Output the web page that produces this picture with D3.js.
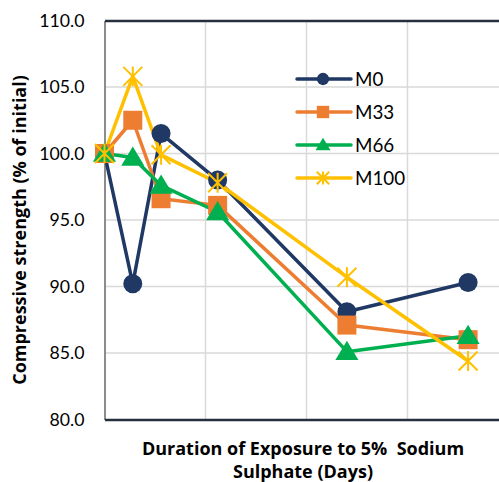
<!DOCTYPE html>
<html>
<head>
<meta charset="utf-8">
<script src="https://cdn.jsdelivr.net/npm/d3@7"></script>
<style>
html,body{margin:0;padding:0;background:#fff;}
svg{display:block;font-family:Lato,"Open Sans",sans-serif;}
</style>
</head>
<body>
<svg id="chart" width="499" height="482"></svg>
<script>
const days = [0, 14, 28, 56, 120, 180];
const seriesNames = ["M0", "M33", "M66", "M100"];
const m0 = [100.0, 90.2, 101.5, 98.0, 88.1, 90.3];
const m33 = [100.0, 102.5, 96.6, 96.1, 87.1, 86.0];
const m66 = [100.0, 99.7, 97.6, 95.6, 85.1, 86.3];
const m100 = [100.0, 105.8, 99.9, 97.8, 90.7, 84.4];
const yTicks = [80, 85, 90, 95, 100, 105, 110];
const xGrid = [0, 50, 100, 150, 200];
const colors = ["#203864", "#ED7D31", "#00B050", "#FFC000"];
const shapes = ["circle", "square", "triangle", "star"];
const yTitle = "Compressive strength (% of initial)";
const xTitle = ["Duration of Exposure to 5%\u00A0 Sodium", "Sulphate (Days)"];

const data = [m0, m33, m66, m100].map((vals, i) => ({
  name: seriesNames[i], color: colors[i], shape: shapes[i],
  points: vals.map((v, j) => ({x: days[j], y: v}))
}));

const svg = d3.select("#chart");
const L = 104.5, T = 20.5, B = 419.5, R = 508.5;
const x = d3.scaleLinear().domain([0, 200]).range([L, R]);
const y = d3.scaleLinear().domain([80, 110]).range([B, T]);

// gridlines
svg.append("g").selectAll("line.h").data(yTicks.filter(t => t > 80 && t < 110)).join("line")
  .attr("x1", L).attr("x2", R).attr("y1", d => y(d)).attr("y2", d => y(d))
  .attr("stroke", "#D9D9D9").attr("stroke-width", 1.5);
svg.append("g").selectAll("line.v").data(xGrid.filter(t => t > 0)).join("line")
  .attr("x1", d => x(d)).attr("x2", d => x(d)).attr("y1", T).attr("y2", B)
  .attr("stroke", "#D9D9D9").attr("stroke-width", 1.5);

// axes
const yAxis = d3.axisLeft(y).tickValues(yTicks).tickSize(0).tickPadding(20).tickFormat(d3.format(".1f"));
const gy = svg.append("g").attr("transform", `translate(${L},0)`).call(yAxis);
gy.select(".domain").attr("stroke", "#8C8C8C").attr("stroke-width", 2);
gy.selectAll("text").attr("font-size", 17.7).attr("fill", "#000").attr("font-family", "Lato, 'Open Sans', sans-serif");

const xAxisB = d3.axisBottom(x).tickValues([]).tickSize(0);
const gxb = svg.append("g").attr("transform", `translate(0,${B})`).call(xAxisB);
gxb.select(".domain").attr("stroke", "#262F3D").attr("stroke-width", 2.5);
const xAxisT = d3.axisTop(x).tickValues([]).tickSize(0);
const gxt = svg.append("g").attr("transform", `translate(0,${T})`).call(xAxisT);
gxt.select(".domain").attr("stroke", "#262F3D").attr("stroke-width", 2.5);

// markers
function drawMarker(g, shape, color, s) {
  if (shape === "circle") {
    g.append("circle").attr("r", s * 0.95).attr("fill", color);
  } else if (shape === "square") {
    g.append("rect").attr("x", -s * 0.95).attr("y", -s * 0.95).attr("width", s * 1.9).attr("height", s * 1.9).attr("fill", color);
  } else if (shape === "triangle") {
    const h = s * 1.1;
    g.append("path").attr("d", `M0,${-h} L${h * 1.05},${h * 0.75} L${-h * 1.05},${h * 0.75} Z`).attr("fill", color);
  } else {
    const r = s * 0.95;
    g.append("path").attr("d", `M${-r},${-r}L${r},${r}M${-r},${r}L${r},${-r}M0,${-r * 1.05}L0,${r * 1.05}`)
      .attr("stroke", color).attr("stroke-width", 2).attr("fill", "none");
  }
}

const line = d3.line().x(d => x(d.x)).y(d => y(d.y));
data.forEach(s => {
  svg.append("path").datum(s.points).attr("d", line)
    .attr("fill", "none").attr("stroke", s.color).attr("stroke-width", 3.5).attr("stroke-linejoin", "round");
});
data.forEach(s => {
  s.points.forEach(p => {
    const g = svg.append("g").attr("transform", `translate(${x(p.x)},${y(p.y)})`);
    drawMarker(g, s.shape, s.color, 10);
  });
});

// legend
const leg = svg.append("g");
data.forEach((s, i) => {
  const yy = 79 + i * 33;
  const g = leg.append("g").attr("transform", `translate(0,${yy})`);
  g.append("line").attr("x1", 297).attr("x2", 351).attr("stroke", s.color).attr("stroke-width", 3.5).attr("stroke-linecap", "round");
  const m = g.append("g").attr("transform", "translate(323,0)");
  drawMarker(m, s.shape, s.color, 6.5);
  g.append("text").attr("x", 355).attr("y", 0).attr("dy", "0.36em").attr("font-size", 18.8).attr("fill", "#000").text(s.name);
});

// titles
const titleFont = "'Open Sans', Lato, sans-serif";
svg.append("text").attr("transform", `translate(26,230) rotate(-90)`)
  .attr("text-anchor", "middle").attr("font-family", titleFont).attr("font-size", 18).attr("font-weight", "bold").attr("fill", "#000").text(yTitle);
svg.append("text").attr("x", 303).attr("y", 455).attr("text-anchor", "middle").attr("font-family", titleFont)
  .attr("font-size", 18).attr("font-weight", "bold").attr("fill", "#000").text(xTitle[0]);
svg.append("text").attr("x", 303).attr("y", 478).attr("text-anchor", "middle").attr("font-family", titleFont)
  .attr("font-size", 18).attr("font-weight", "bold").attr("fill", "#000").text(xTitle[1]);
</script>
</body>
</html>
